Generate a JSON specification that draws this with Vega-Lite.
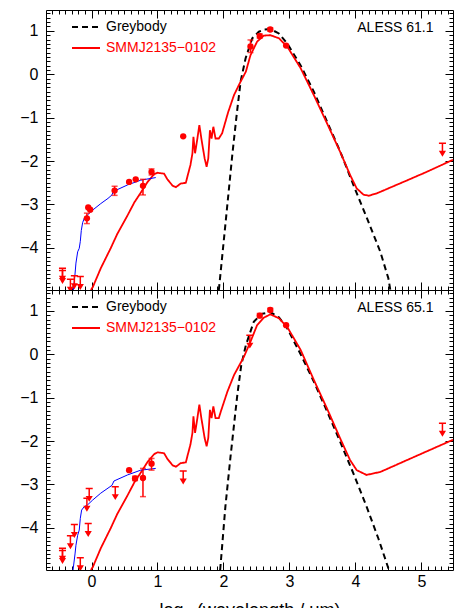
{
  "$schema": "https://vega.github.io/schema/vega-lite/v6.json",
  "padding": {"left": -20, "top": 5, "right": 0, "bottom": 0},
  "autosize": {"type": "pad"},
  "spacing": 0,
  "bounds": "flush",
  "config": {
    "font": "Liberation Sans",
    "view": {"stroke": null},
    "axis": {"domainColor": "black", "domainWidth": 1, "tickColor": "black", "tickWidth": 1, "labelColor": "black", "titleColor": "black", "grid": false, "labelFont": "Liberation Sans", "labelFontSize": 16, "titleFont": "Liberation Sans", "titleFontWeight": "normal", "labelOverlap": false, "labelFlush": false},
    "legend": {"orient": "none", "legendX": 33, "legendY": 10, "padding": 0, "labelFontSize": 14, "labelFont": "Liberation Sans", "symbolType": "M -3.5 0 L 3.5 0", "symbolSize": 64, "symbolStrokeWidth": 1.8, "labelOffset": 13, "rowPadding": 7}
  },
  "datasets": {
    "grey1": [
      {"series": "Greybody", "x": 1.93, "y": -4.97}, {"series": "Greybody", "x": 1.958, "y": -4.55}, {"series": "Greybody", "x": 2.059, "y": -3.01}, {"series": "Greybody", "x": 2.134, "y": -1.86}, {"series": "Greybody", "x": 2.2, "y": -0.94}, {"series": "Greybody", "x": 2.26, "y": -0.17}, {"series": "Greybody", "x": 2.336, "y": 0.37}, {"series": "Greybody", "x": 2.437, "y": 0.83}, {"series": "Greybody", "x": 2.537, "y": 0.98}, {"series": "Greybody", "x": 2.62, "y": 1.03}, {"series": "Greybody", "x": 2.714, "y": 1.04}, {"series": "Greybody", "x": 2.84, "y": 0.94}, {"series": "Greybody", "x": 2.966, "y": 0.71}, {"series": "Greybody", "x": 3.168, "y": 0.21}, {"series": "Greybody", "x": 3.37, "y": -0.4}, {"series": "Greybody", "x": 3.57, "y": -1.09}, {"series": "Greybody", "x": 3.773, "y": -1.79}, {"series": "Greybody", "x": 3.97, "y": -2.55}, {"series": "Greybody", "x": 4.177, "y": -3.32}, {"series": "Greybody", "x": 4.378, "y": -4.09}, {"series": "Greybody", "x": 4.5, "y": -4.7}, {"series": "Greybody", "x": 4.53, "y": -4.97}
    ],
    "grey2": [
      {"series": "Greybody", "x": 1.95, "y": -4.97}, {"series": "Greybody", "x": 1.965, "y": -4.7}, {"series": "Greybody", "x": 2.03, "y": -3.5}, {"series": "Greybody", "x": 2.11, "y": -2.32}, {"series": "Greybody", "x": 2.21, "y": -0.94}, {"series": "Greybody", "x": 2.27, "y": -0.25}, {"series": "Greybody", "x": 2.34, "y": 0.21}, {"series": "Greybody", "x": 2.46, "y": 0.75}, {"series": "Greybody", "x": 2.58, "y": 0.93}, {"series": "Greybody", "x": 2.71, "y": 0.97}, {"series": "Greybody", "x": 2.84, "y": 0.85}, {"series": "Greybody", "x": 2.966, "y": 0.6}, {"series": "Greybody", "x": 3.17, "y": 0.0}, {"series": "Greybody", "x": 3.37, "y": -0.63}, {"series": "Greybody", "x": 3.57, "y": -1.31}, {"series": "Greybody", "x": 3.77, "y": -2.02}, {"series": "Greybody", "x": 3.98, "y": -2.78}, {"series": "Greybody", "x": 4.18, "y": -3.55}, {"series": "Greybody", "x": 4.35, "y": -4.25}, {"series": "Greybody", "x": 4.5, "y": -4.93}, {"series": "Greybody", "x": 4.51, "y": -4.97}
    ],
    "smm1": [
      {"series": "SMMJ2135−0102", "x": -0.01, "y": -4.97}, {"series": "SMMJ2135−0102", "x": 0.02, "y": -4.9}, {"series": "SMMJ2135−0102", "x": 0.14, "y": -4.47}, {"series": "SMMJ2135−0102", "x": 0.29, "y": -4.01}, {"series": "SMMJ2135−0102", "x": 0.39, "y": -3.68}, {"series": "SMMJ2135−0102", "x": 0.55, "y": -3.24}, {"series": "SMMJ2135−0102", "x": 0.65, "y": -2.95}, {"series": "SMMJ2135−0102", "x": 0.75, "y": -2.72}, {"series": "SMMJ2135−0102", "x": 0.85, "y": -2.48}, {"series": "SMMJ2135−0102", "x": 0.95, "y": -2.3}, {"series": "SMMJ2135−0102", "x": 1.0, "y": -2.27}, {"series": "SMMJ2135−0102", "x": 1.1, "y": -2.29}, {"series": "SMMJ2135−0102", "x": 1.15, "y": -2.42}, {"series": "SMMJ2135−0102", "x": 1.23, "y": -2.57}, {"series": "SMMJ2135−0102", "x": 1.28, "y": -2.6}, {"series": "SMMJ2135−0102", "x": 1.35, "y": -2.52}, {"series": "SMMJ2135−0102", "x": 1.43, "y": -2.5}, {"series": "SMMJ2135−0102", "x": 1.46, "y": -2.32}, {"series": "SMMJ2135−0102", "x": 1.5, "y": -2.09}, {"series": "SMMJ2135−0102", "x": 1.53, "y": -1.82}, {"series": "SMMJ2135−0102", "x": 1.545, "y": -1.44}, {"series": "SMMJ2135−0102", "x": 1.57, "y": -1.82}, {"series": "SMMJ2135−0102", "x": 1.605, "y": -1.48}, {"series": "SMMJ2135−0102", "x": 1.635, "y": -1.17}, {"series": "SMMJ2135−0102", "x": 1.665, "y": -1.48}, {"series": "SMMJ2135−0102", "x": 1.715, "y": -1.94}, {"series": "SMMJ2135−0102", "x": 1.745, "y": -2.13}, {"series": "SMMJ2135−0102", "x": 1.77, "y": -1.94}, {"series": "SMMJ2135−0102", "x": 1.795, "y": -1.29}, {"series": "SMMJ2135−0102", "x": 1.82, "y": -1.48}, {"series": "SMMJ2135−0102", "x": 1.847, "y": -1.21}, {"series": "SMMJ2135−0102", "x": 1.88, "y": -1.48}, {"series": "SMMJ2135−0102", "x": 1.93, "y": -1.48}, {"series": "SMMJ2135−0102", "x": 1.98, "y": -1.36}, {"series": "SMMJ2135−0102", "x": 2.07, "y": -0.88}, {"series": "SMMJ2135−0102", "x": 2.16, "y": -0.48}, {"series": "SMMJ2135−0102", "x": 2.26, "y": -0.17}, {"series": "SMMJ2135−0102", "x": 2.34, "y": 0.06}, {"series": "SMMJ2135−0102", "x": 2.41, "y": 0.44}, {"series": "SMMJ2135−0102", "x": 2.51, "y": 0.75}, {"series": "SMMJ2135−0102", "x": 2.61, "y": 0.89}, {"series": "SMMJ2135−0102", "x": 2.71, "y": 0.9}, {"series": "SMMJ2135−0102", "x": 2.84, "y": 0.83}, {"series": "SMMJ2135−0102", "x": 2.97, "y": 0.63}, {"series": "SMMJ2135−0102", "x": 3.17, "y": 0.14}, {"series": "SMMJ2135−0102", "x": 3.37, "y": -0.48}, {"series": "SMMJ2135−0102", "x": 3.57, "y": -1.13}, {"series": "SMMJ2135−0102", "x": 3.77, "y": -1.79}, {"series": "SMMJ2135−0102", "x": 3.92, "y": -2.32}, {"series": "SMMJ2135−0102", "x": 4.02, "y": -2.63}, {"series": "SMMJ2135−0102", "x": 4.12, "y": -2.77}, {"series": "SMMJ2135−0102", "x": 4.2, "y": -2.8}, {"series": "SMMJ2135−0102", "x": 4.33, "y": -2.74}, {"series": "SMMJ2135−0102", "x": 4.73, "y": -2.48}, {"series": "SMMJ2135−0102", "x": 5.08, "y": -2.25}, {"series": "SMMJ2135−0102", "x": 5.48, "y": -1.97}
    ],
    "smm2": [
      {"series": "SMMJ2135−0102", "x": -0.01, "y": -4.97}, {"series": "SMMJ2135−0102", "x": 0.02, "y": -4.9}, {"series": "SMMJ2135−0102", "x": 0.14, "y": -4.47}, {"series": "SMMJ2135−0102", "x": 0.29, "y": -4.01}, {"series": "SMMJ2135−0102", "x": 0.39, "y": -3.68}, {"series": "SMMJ2135−0102", "x": 0.55, "y": -3.24}, {"series": "SMMJ2135−0102", "x": 0.65, "y": -2.95}, {"series": "SMMJ2135−0102", "x": 0.75, "y": -2.72}, {"series": "SMMJ2135−0102", "x": 0.85, "y": -2.48}, {"series": "SMMJ2135−0102", "x": 0.95, "y": -2.3}, {"series": "SMMJ2135−0102", "x": 1.0, "y": -2.26}, {"series": "SMMJ2135−0102", "x": 1.1, "y": -2.28}, {"series": "SMMJ2135−0102", "x": 1.15, "y": -2.41}, {"series": "SMMJ2135−0102", "x": 1.23, "y": -2.56}, {"series": "SMMJ2135−0102", "x": 1.28, "y": -2.59}, {"series": "SMMJ2135−0102", "x": 1.35, "y": -2.51}, {"series": "SMMJ2135−0102", "x": 1.43, "y": -2.49}, {"series": "SMMJ2135−0102", "x": 1.46, "y": -2.31}, {"series": "SMMJ2135−0102", "x": 1.5, "y": -2.08}, {"series": "SMMJ2135−0102", "x": 1.53, "y": -1.81}, {"series": "SMMJ2135−0102", "x": 1.545, "y": -1.43}, {"series": "SMMJ2135−0102", "x": 1.57, "y": -1.81}, {"series": "SMMJ2135−0102", "x": 1.605, "y": -1.47}, {"series": "SMMJ2135−0102", "x": 1.635, "y": -1.16}, {"series": "SMMJ2135−0102", "x": 1.665, "y": -1.47}, {"series": "SMMJ2135−0102", "x": 1.715, "y": -1.93}, {"series": "SMMJ2135−0102", "x": 1.745, "y": -2.12}, {"series": "SMMJ2135−0102", "x": 1.77, "y": -1.93}, {"series": "SMMJ2135−0102", "x": 1.795, "y": -1.28}, {"series": "SMMJ2135−0102", "x": 1.82, "y": -1.47}, {"series": "SMMJ2135−0102", "x": 1.847, "y": -1.2}, {"series": "SMMJ2135−0102", "x": 1.88, "y": -1.47}, {"series": "SMMJ2135−0102", "x": 1.93, "y": -1.47}, {"series": "SMMJ2135−0102", "x": 1.96, "y": -1.32}, {"series": "SMMJ2135−0102", "x": 2.06, "y": -0.86}, {"series": "SMMJ2135−0102", "x": 2.16, "y": -0.48}, {"series": "SMMJ2135−0102", "x": 2.31, "y": -0.06}, {"series": "SMMJ2135−0102", "x": 2.41, "y": 0.29}, {"series": "SMMJ2135−0102", "x": 2.51, "y": 0.67}, {"series": "SMMJ2135−0102", "x": 2.61, "y": 0.84}, {"series": "SMMJ2135−0102", "x": 2.71, "y": 0.92}, {"series": "SMMJ2135−0102", "x": 2.84, "y": 0.83}, {"series": "SMMJ2135−0102", "x": 2.966, "y": 0.63}, {"series": "SMMJ2135−0102", "x": 3.17, "y": 0.1}, {"series": "SMMJ2135−0102", "x": 3.37, "y": -0.59}, {"series": "SMMJ2135−0102", "x": 3.57, "y": -1.25}, {"series": "SMMJ2135−0102", "x": 3.77, "y": -1.94}, {"series": "SMMJ2135−0102", "x": 3.92, "y": -2.44}, {"series": "SMMJ2135−0102", "x": 4.02, "y": -2.67}, {"series": "SMMJ2135−0102", "x": 4.17, "y": -2.78}, {"series": "SMMJ2135−0102", "x": 4.38, "y": -2.71}, {"series": "SMMJ2135−0102", "x": 4.78, "y": -2.44}, {"series": "SMMJ2135−0102", "x": 5.48, "y": -1.97}
    ],
    "blue1": [
      {"x": -0.275, "y": -4.97}, {"x": -0.25, "y": -4.6}, {"x": -0.236, "y": -4.35}, {"x": -0.21, "y": -4.09}, {"x": -0.186, "y": -4.01}, {"x": -0.17, "y": -3.85}, {"x": -0.155, "y": -3.6}, {"x": -0.135, "y": -3.42}, {"x": -0.11, "y": -3.32}, {"x": -0.06, "y": -3.24}, {"x": 0.017, "y": -3.13}, {"x": 0.14, "y": -2.98}, {"x": 0.25, "y": -2.86}, {"x": 0.31, "y": -2.78}, {"x": 0.33, "y": -2.7}, {"x": 0.546, "y": -2.55}, {"x": 0.747, "y": -2.44}, {"x": 0.974, "y": -2.38}
    ],
    "blue2": [
      {"x": -0.28, "y": -4.97}, {"x": -0.25, "y": -4.6}, {"x": -0.236, "y": -4.4}, {"x": -0.21, "y": -4.17}, {"x": -0.186, "y": -4.05}, {"x": -0.17, "y": -3.78}, {"x": -0.15, "y": -3.59}, {"x": -0.11, "y": -3.51}, {"x": -0.06, "y": -3.47}, {"x": 0.017, "y": -3.36}, {"x": 0.14, "y": -3.2}, {"x": 0.31, "y": -3.02}, {"x": 0.34, "y": -2.92}, {"x": 0.546, "y": -2.78}, {"x": 0.747, "y": -2.67}, {"x": 0.974, "y": -2.63}
    ],
    "det1": [
      {"x": -0.05, "y": -3.07}, {"x": -0.02, "y": -3.12}, {"x": -0.07, "y": -3.32, "lo": -3.44, "hi": -3.2}, {"x": 0.35, "y": -2.68, "lo": -2.79, "hi": -2.58}, {"x": 0.57, "y": -2.48}, {"x": 0.67, "y": -2.42}, {"x": 0.78, "y": -2.57, "lo": -2.78, "hi": -2.42}, {"x": 0.91, "y": -2.25, "lo": -2.32, "hi": -2.18}, {"x": 1.39, "y": -1.43}, {"x": 2.41, "y": 0.64, "lo": 0.5, "hi": 0.79}, {"x": 2.55, "y": 0.88, "lo": 0.83, "hi": 0.93}, {"x": 2.71, "y": 1.03, "lo": 0.99, "hi": 1.07}, {"x": 2.95, "y": 0.66}
    ],
    "det2": [
      {"x": 0.57, "y": -2.67}, {"x": 0.66, "y": -2.86, "lo": -2.91, "hi": -2.81}, {"x": 0.78, "y": -2.85, "lo": -3.28, "hi": -2.63}, {"x": 0.91, "y": -2.52, "lo": -2.67, "hi": -2.4}, {"x": 2.55, "y": 0.89, "lo": 0.84, "hi": 0.94}, {"x": 2.71, "y": 1.02, "lo": 0.98, "hi": 1.06}, {"x": 2.95, "y": 0.67}
    ],
    "lim1": [
      {"x": -0.44, "y": -4.47}, {"x": -0.44, "y": -4.52}, {"x": -0.32, "y": -4.72}, {"x": -0.26, "y": -4.64}, {"x": -0.17, "y": -4.66}, {"x": 5.32, "y": -1.59}
    ],
    "lim2": [
      {"x": -0.44, "y": -4.47}, {"x": -0.44, "y": -4.52}, {"x": -0.32, "y": -4.18}, {"x": -0.26, "y": -3.92}, {"x": -0.17, "y": -4.69}, {"x": -0.07, "y": -3.32}, {"x": -0.05, "y": -3.9}, {"x": -0.035, "y": -3.09}, {"x": 0.36, "y": -3.05}, {"x": 1.39, "y": -2.69}, {"x": 2.4, "y": 0.44}, {"x": 5.32, "y": -1.59}
    ]
  },
  "resolve": {"scale": {"x": "independent", "y": "independent"}, "legend": {"color": "independent", "strokeDash": "independent"}},
  "vconcat": [
    {
      "width": 407,
      "height": 280,
      "resolve": {"axis": {"x": "independent", "y": "independent"}},
      "layer": [
        {
          "data": {"name": "grey1"},
          "mark": {"type": "line", "strokeWidth": 2, "clip": true},
          "encoding": {
            "x": {"field": "x", "type": "quantitative", "scale": {"domain": [-0.69, 5.48], "nice": false, "zero": false},
              "axis": {"orient": "top", "values": [-0.6,-0.5,-0.4,-0.3,-0.2,-0.1,0,0.1,0.2,0.3,0.4,0.5,0.6,0.7,0.8,0.9,1,1.1,1.2,1.3,1.4,1.5,1.6,1.7,1.8,1.9,2,2.1,2.2,2.3,2.4,2.5,2.6,2.7,2.8,2.9,3,3.1,3.2,3.3,3.4,3.5,3.6,3.7,3.8,3.9,4,4.1,4.2,4.3,4.4,4.5,4.6,4.7,4.8,4.9,5,5.1,5.2,5.3,5.4], "labels": false, "title": null, "tickSize": {"condition": {"test": "abs(datum.value - round(datum.value)) < 0.001", "value": -8}, "value": -4}}},
            "y": {"field": "y", "type": "quantitative", "scale": {"domain": [-4.97, 1.48], "nice": false, "zero": false},
              "axis": {"orient": "right", "values": [-4.9,-4.8,-4.7,-4.6,-4.5,-4.4,-4.3,-4.2,-4.1,-4,-3.9,-3.8,-3.7,-3.6,-3.5,-3.4,-3.3,-3.2,-3.1,-3,-2.9,-2.8,-2.7,-2.6,-2.5,-2.4,-2.3,-2.2,-2.1,-2,-1.9,-1.8,-1.7,-1.6,-1.5,-1.4,-1.3,-1.2,-1.1,-1,-0.9,-0.8,-0.7,-0.6,-0.5,-0.4,-0.3,-0.2,-0.1,0,0.1,0.2,0.3,0.4,0.5,0.6,0.7,0.8,0.9,1,1.1,1.2,1.3,1.4], "labels": false, "title": null, "tickSize": {"condition": {"test": "abs(datum.value - round(datum.value)) < 0.001", "value": -8}, "value": -4}}},
            "color": {"field": "series", "type": "nominal", "scale": {"domain": ["Greybody", "SMMJ2135−0102"], "range": ["black", "red"]}, "legend": {"title": null, "encode": {"labels": {"update": {"fill": {"signal": "datum.value === 'Greybody' ? 'black' : 'red'"}}}}}},
            "strokeDash": {"field": "series", "type": "nominal", "scale": {"domain": ["Greybody", "SMMJ2135−0102"], "range": [[6, 4], [1, 0]]}, "legend": {"title": null}}
          }
        },
        {
          "data": {"name": "smm1"},
          "mark": {"type": "line", "strokeWidth": 1.8, "clip": true},
          "encoding": {
            "x": {"field": "x", "type": "quantitative", "scale": {"domain": [-0.69, 5.48], "nice": false, "zero": false},
              "axis": {"orient": "bottom", "values": [-0.6,-0.5,-0.4,-0.3,-0.2,-0.1,0,0.1,0.2,0.3,0.4,0.5,0.6,0.7,0.8,0.9,1,1.1,1.2,1.3,1.4,1.5,1.6,1.7,1.8,1.9,2,2.1,2.2,2.3,2.4,2.5,2.6,2.7,2.8,2.9,3,3.1,3.2,3.3,3.4,3.5,3.6,3.7,3.8,3.9,4,4.1,4.2,4.3,4.4,4.5,4.6,4.7,4.8,4.9,5,5.1,5.2,5.3,5.4], "labels": false, "title": null, "tickSize": {"condition": {"test": "abs(datum.value - round(datum.value)) < 0.001", "value": -8}, "value": -4}}},
            "y": {"field": "y", "type": "quantitative", "scale": {"domain": [-4.97, 1.48], "nice": false, "zero": false},
              "axis": {"orient": "left", "values": [-4.9,-4.8,-4.7,-4.6,-4.5,-4.4,-4.3,-4.2,-4.1,-4,-3.9,-3.8,-3.7,-3.6,-3.5,-3.4,-3.3,-3.2,-3.1,-3,-2.9,-2.8,-2.7,-2.6,-2.5,-2.4,-2.3,-2.2,-2.1,-2,-1.9,-1.8,-1.7,-1.6,-1.5,-1.4,-1.3,-1.2,-1.1,-1,-0.9,-0.8,-0.7,-0.6,-0.5,-0.4,-0.3,-0.2,-0.1,0,0.1,0.2,0.3,0.4,0.5,0.6,0.7,0.8,0.9,1,1.1,1.2,1.3,1.4], "labelExpr": "abs(datum.value - round(datum.value)) < 0.001 ? format(datum.value, 'd') : ''", "labelPadding": 16, "title": "log₁₀(flux density / mJy)", "titleX": -52, "titleY": 140, "titleAngle": -90, "titleBaseline": "alphabetic", "titleAlign": "center", "titleFontSize": 16, "tickSize": {"condition": {"test": "abs(datum.value - round(datum.value)) < 0.001", "value": -8}, "value": -4}}},
            "color": {"field": "series", "type": "nominal", "scale": {"domain": ["Greybody", "SMMJ2135−0102"], "range": ["black", "red"]}, "legend": {"title": null, "encode": {"labels": {"update": {"fill": {"signal": "datum.value === 'Greybody' ? 'black' : 'red'"}}}}}},
            "strokeDash": {"field": "series", "type": "nominal", "scale": {"domain": ["Greybody", "SMMJ2135−0102"], "range": [[6, 4], [1, 0]]}, "legend": {"title": null}}
          }
        },
        {
          "data": {"name": "blue1"},
          "mark": {"type": "line", "strokeWidth": 1, "color": "blue", "clip": true},
          "encoding": {
            "x": {"field": "x", "type": "quantitative", "scale": {"domain": [-0.69, 5.48], "nice": false, "zero": false}, "axis": null},
            "y": {"field": "y", "type": "quantitative", "scale": {"domain": [-4.97, 1.48], "nice": false, "zero": false}, "axis": null}
          }
        },
        {
          "data": {"name": "det1"},
          "transform": [{"filter": "isValid(datum.lo)"}],
          "mark": {"type": "errorbar", "ticks": true, "size": 6, "thickness": 1.5, "color": "red", "clip": true},
          "encoding": {
            "x": {"field": "x", "type": "quantitative", "scale": {"domain": [-0.69, 5.48], "nice": false, "zero": false}, "axis": null},
            "y": {"field": "lo", "type": "quantitative", "scale": {"domain": [-4.97, 1.48], "nice": false, "zero": false}, "axis": null},
            "y2": {"field": "hi"}
          }
        },
        {
          "data": {"name": "det1"},
          "mark": {"type": "point", "shape": "circle", "filled": true, "size": 40, "color": "red", "opacity": 1, "clip": true},
          "encoding": {
            "x": {"field": "x", "type": "quantitative", "scale": {"domain": [-0.69, 5.48], "nice": false, "zero": false}, "axis": null},
            "y": {"field": "y", "type": "quantitative", "scale": {"domain": [-4.97, 1.48], "nice": false, "zero": false}, "axis": null}
          }
        },
        {
          "data": {"name": "lim1"},
          "mark": {"type": "point", "shape": "M -0.47 0 L 0.47 0 M 0 0 L 0 1.6 M -0.3 1.1 L 0 1.6 L 0.3 1.1 Z", "filled": true, "size": 225, "color": "red", "stroke": "red", "strokeWidth": 1.5, "opacity": 1, "clip": true},
          "encoding": {
            "x": {"field": "x", "type": "quantitative", "scale": {"domain": [-0.69, 5.48], "nice": false, "zero": false}, "axis": null},
            "y": {"field": "y", "type": "quantitative", "scale": {"domain": [-4.97, 1.48], "nice": false, "zero": false}, "axis": null}
          }
        },
        {
          "data": {"values": [{"label": "ALESS 61.1"}]},
          "mark": {"type": "text", "align": "right", "baseline": "alphabetic", "fontSize": 14, "color": "black"},
          "encoding": {
            "x": {"datum": 5.185, "type": "quantitative", "scale": {"domain": [-0.69, 5.48], "nice": false, "zero": false}, "axis": null},
            "y": {"datum": 0.97, "type": "quantitative", "scale": {"domain": [-4.97, 1.48], "nice": false, "zero": false}, "axis": null},
            "text": {"field": "label"}
          }
        }
      ]
    },
    {
      "width": 407,
      "height": 280,
      "resolve": {"axis": {"x": "independent", "y": "independent"}},
      "layer": [
        {
          "data": {"name": "grey2"},
          "mark": {"type": "line", "strokeWidth": 2, "clip": true},
          "encoding": {
            "x": {"field": "x", "type": "quantitative", "scale": {"domain": [-0.69, 5.48], "nice": false, "zero": false},
              "axis": {"orient": "top", "values": [-0.6,-0.5,-0.4,-0.3,-0.2,-0.1,0,0.1,0.2,0.3,0.4,0.5,0.6,0.7,0.8,0.9,1,1.1,1.2,1.3,1.4,1.5,1.6,1.7,1.8,1.9,2,2.1,2.2,2.3,2.4,2.5,2.6,2.7,2.8,2.9,3,3.1,3.2,3.3,3.4,3.5,3.6,3.7,3.8,3.9,4,4.1,4.2,4.3,4.4,4.5,4.6,4.7,4.8,4.9,5,5.1,5.2,5.3,5.4], "labels": false, "title": null, "tickSize": {"condition": {"test": "abs(datum.value - round(datum.value)) < 0.001", "value": -8}, "value": -4}}},
            "y": {"field": "y", "type": "quantitative", "scale": {"domain": [-4.97, 1.48], "nice": false, "zero": false},
              "axis": {"orient": "right", "values": [-4.9,-4.8,-4.7,-4.6,-4.5,-4.4,-4.3,-4.2,-4.1,-4,-3.9,-3.8,-3.7,-3.6,-3.5,-3.4,-3.3,-3.2,-3.1,-3,-2.9,-2.8,-2.7,-2.6,-2.5,-2.4,-2.3,-2.2,-2.1,-2,-1.9,-1.8,-1.7,-1.6,-1.5,-1.4,-1.3,-1.2,-1.1,-1,-0.9,-0.8,-0.7,-0.6,-0.5,-0.4,-0.3,-0.2,-0.1,0,0.1,0.2,0.3,0.4,0.5,0.6,0.7,0.8,0.9,1,1.1,1.2,1.3,1.4], "labels": false, "title": null, "tickSize": {"condition": {"test": "abs(datum.value - round(datum.value)) < 0.001", "value": -8}, "value": -4}}},
            "color": {"field": "series", "type": "nominal", "scale": {"domain": ["Greybody", "SMMJ2135−0102"], "range": ["black", "red"]}, "legend": {"title": null, "encode": {"labels": {"update": {"fill": {"signal": "datum.value === 'Greybody' ? 'black' : 'red'"}}}}}},
            "strokeDash": {"field": "series", "type": "nominal", "scale": {"domain": ["Greybody", "SMMJ2135−0102"], "range": [[6, 4], [1, 0]]}, "legend": {"title": null}}
          }
        },
        {
          "data": {"name": "smm2"},
          "mark": {"type": "line", "strokeWidth": 1.8, "clip": true},
          "encoding": {
            "x": {"field": "x", "type": "quantitative", "scale": {"domain": [-0.69, 5.48], "nice": false, "zero": false},
              "axis": {"orient": "bottom", "values": [-0.6,-0.5,-0.4,-0.3,-0.2,-0.1,0,0.1,0.2,0.3,0.4,0.5,0.6,0.7,0.8,0.9,1,1.1,1.2,1.3,1.4,1.5,1.6,1.7,1.8,1.9,2,2.1,2.2,2.3,2.4,2.5,2.6,2.7,2.8,2.9,3,3.1,3.2,3.3,3.4,3.5,3.6,3.7,3.8,3.9,4,4.1,4.2,4.3,4.4,4.5,4.6,4.7,4.8,4.9,5,5.1,5.2,5.3,5.4], "labelExpr": "abs(datum.value - round(datum.value)) < 0.001 ? format(datum.value, 'd') : ''", "labelPadding": 11, "title": "log₁₀(wavelength / μm)", "titleFontSize": 18, "titlePadding": 8, "tickSize": {"condition": {"test": "abs(datum.value - round(datum.value)) < 0.001", "value": -8}, "value": -4}}},
            "y": {"field": "y", "type": "quantitative", "scale": {"domain": [-4.97, 1.48], "nice": false, "zero": false},
              "axis": {"orient": "left", "values": [-4.9,-4.8,-4.7,-4.6,-4.5,-4.4,-4.3,-4.2,-4.1,-4,-3.9,-3.8,-3.7,-3.6,-3.5,-3.4,-3.3,-3.2,-3.1,-3,-2.9,-2.8,-2.7,-2.6,-2.5,-2.4,-2.3,-2.2,-2.1,-2,-1.9,-1.8,-1.7,-1.6,-1.5,-1.4,-1.3,-1.2,-1.1,-1,-0.9,-0.8,-0.7,-0.6,-0.5,-0.4,-0.3,-0.2,-0.1,0,0.1,0.2,0.3,0.4,0.5,0.6,0.7,0.8,0.9,1,1.1,1.2,1.3,1.4], "labelExpr": "abs(datum.value - round(datum.value)) < 0.001 ? format(datum.value, 'd') : ''", "labelPadding": 16, "title": "log₁₀(flux density / mJy)", "titleX": -52, "titleY": 140, "titleAngle": -90, "titleBaseline": "alphabetic", "titleAlign": "center", "titleFontSize": 16, "tickSize": {"condition": {"test": "abs(datum.value - round(datum.value)) < 0.001", "value": -8}, "value": -4}}},
            "color": {"field": "series", "type": "nominal", "scale": {"domain": ["Greybody", "SMMJ2135−0102"], "range": ["black", "red"]}, "legend": {"title": null, "encode": {"labels": {"update": {"fill": {"signal": "datum.value === 'Greybody' ? 'black' : 'red'"}}}}}},
            "strokeDash": {"field": "series", "type": "nominal", "scale": {"domain": ["Greybody", "SMMJ2135−0102"], "range": [[6, 4], [1, 0]]}, "legend": {"title": null}}
          }
        },
        {
          "data": {"name": "blue2"},
          "mark": {"type": "line", "strokeWidth": 1, "color": "blue", "clip": true},
          "encoding": {
            "x": {"field": "x", "type": "quantitative", "scale": {"domain": [-0.69, 5.48], "nice": false, "zero": false}, "axis": null},
            "y": {"field": "y", "type": "quantitative", "scale": {"domain": [-4.97, 1.48], "nice": false, "zero": false}, "axis": null}
          }
        },
        {
          "data": {"name": "det2"},
          "transform": [{"filter": "isValid(datum.lo)"}],
          "mark": {"type": "errorbar", "ticks": true, "size": 6, "thickness": 1.5, "color": "red", "clip": true},
          "encoding": {
            "x": {"field": "x", "type": "quantitative", "scale": {"domain": [-0.69, 5.48], "nice": false, "zero": false}, "axis": null},
            "y": {"field": "lo", "type": "quantitative", "scale": {"domain": [-4.97, 1.48], "nice": false, "zero": false}, "axis": null},
            "y2": {"field": "hi"}
          }
        },
        {
          "data": {"name": "det2"},
          "mark": {"type": "point", "shape": "circle", "filled": true, "size": 40, "color": "red", "opacity": 1, "clip": true},
          "encoding": {
            "x": {"field": "x", "type": "quantitative", "scale": {"domain": [-0.69, 5.48], "nice": false, "zero": false}, "axis": null},
            "y": {"field": "y", "type": "quantitative", "scale": {"domain": [-4.97, 1.48], "nice": false, "zero": false}, "axis": null}
          }
        },
        {
          "data": {"name": "lim2"},
          "mark": {"type": "point", "shape": "M -0.47 0 L 0.47 0 M 0 0 L 0 1.6 M -0.3 1.1 L 0 1.6 L 0.3 1.1 Z", "filled": true, "size": 225, "color": "red", "stroke": "red", "strokeWidth": 1.5, "opacity": 1, "clip": true},
          "encoding": {
            "x": {"field": "x", "type": "quantitative", "scale": {"domain": [-0.69, 5.48], "nice": false, "zero": false}, "axis": null},
            "y": {"field": "y", "type": "quantitative", "scale": {"domain": [-4.97, 1.48], "nice": false, "zero": false}, "axis": null}
          }
        },
        {
          "data": {"values": [{"label": "ALESS 65.1"}]},
          "mark": {"type": "text", "align": "right", "baseline": "alphabetic", "fontSize": 14, "color": "black"},
          "encoding": {
            "x": {"datum": 5.185, "type": "quantitative", "scale": {"domain": [-0.69, 5.48], "nice": false, "zero": false}, "axis": null},
            "y": {"datum": 0.98, "type": "quantitative", "scale": {"domain": [-4.97, 1.48], "nice": false, "zero": false}, "axis": null},
            "text": {"field": "label"}
          }
        }
      ]
    }
  ]
}
